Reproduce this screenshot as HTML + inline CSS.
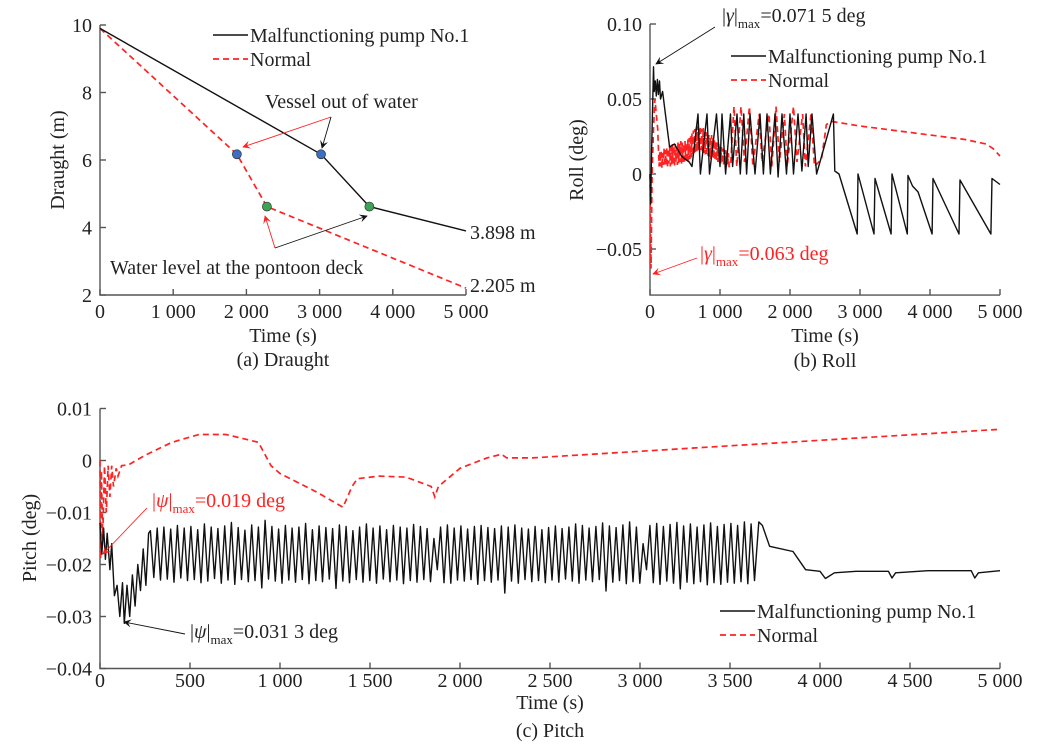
<!DOCTYPE html>
<html><head><meta charset="utf-8">
<style>
body{margin:0;background:#fff;}
svg{display:block;font-family:"Liberation Serif",serif;}
.t{font-size:20px;fill:#222;}
.ax{stroke:#555;stroke-width:1.4;fill:none;}
.bk{stroke:#111;stroke-width:1.4;fill:none;stroke-linejoin:round;}
.rd{stroke:#f22;stroke-width:1.7;fill:none;stroke-dasharray:6,4;}
</style></head>
<body>
<svg id="fig" width="1041" height="748" viewBox="0 0 1041 748" xmlns="http://www.w3.org/2000/svg">
<defs>
<marker id="ab" viewBox="0 0 10 10" refX="9" refY="5" markerWidth="9" markerHeight="9" orient="auto"><path d="M0,0L10,5L0,10L4,5z" fill="#111"/></marker>
<marker id="ar" viewBox="0 0 10 10" refX="9" refY="5" markerWidth="9" markerHeight="9" orient="auto"><path d="M0,0L10,5L0,10L4,5z" fill="#f22"/></marker>
</defs>
<g id="pa"></g>
<g id="pb"></g>
<g id="pc"></g>
</svg>
<script>
// ---------- data: draught ----------
const draughtMalfT = [0, 3020, 3680, 5000];
const draughtMalfV = [9.9, 6.17, 4.62, 3.898];
const draughtNormT = [0, 1870, 2280, 5000];
const draughtNormV = [9.9, 6.17, 4.62, 2.205];
const draughtXTicks = [0, 1000, 2000, 3000, 4000, 5000];
const draughtXLabels = ["0", "1 000", "2 000", "3 000", "4 000", "5 000"];
const draughtYTicks = [2, 4, 6, 8, 10];
// ---------- data: roll ----------
const rollMalfT = [0,10,20,40,50,60,75,90,105,120,135,150,180,220,280,350,450,500,560,600,686,720,814,850,950,1000,1029,1080,1150,1180,1243,1290,1340,1380,1429,1500,1571,1620,1671,1720,1786,1830,1886,1950,2000,2050,2114,2170,2230,2260,2314,2380,2620,2640,2700,2960,2971,3200,3214,3445,3457,3675,3686,3750,3830,4030,4043,4415,4429,4870,4886,5000];
const rollMalfV = [0,-0.02,0.01,0.05,0.0715,0.055,0.062,0.052,0.063,0.053,0.062,0.05,0.055,0.04,0.018,0.02,0.012,0.01,0.008,0.005,0.04,0,0.04,0,0.04,0.005,0.04,0,0.04,0.005,0.04,0,0.04,0,0.04,0,0.04,0,0.04,0,0.04,-0.002,0.04,0,0.04,0,0.04,0.002,0.04,0.005,0.04,0,0.04,0.002,0,-0.04,0,-0.04,-0.003,-0.04,0,-0.04,-0.001,-0.008,-0.012,-0.04,-0.003,-0.04,-0.004,-0.04,-0.003,-0.007];
const rollNormStartT = [0,15,30,50,70,90,110,130];
const rollNormStartV = [0,-0.063,0,0.03,0.05,0.04,0.03,0.005];
const rollBandStart = 140, rollBandPeriod = 20;
const rollBandHi = [0.015,0.016,0.014,0.017,0.016,0.018,0.017,0.019,0.018,0.02,0.019,0.02,0.018,0.021,0.02,0.022,0.021,0.02,0.022,0.021,0.023,0.024,0.026,0.027,0.029,0.03,0.031,0.032,0.031,0.032,0.03,0.031,0.029,0.028,0.027,0.026,0.025,0.026,0.024,0.023,0.022,0.021,0.02,0.019,0.018,0.017,0.016,0.016,0.015,0.014];
const rollBandLo = [0.005,0.004,0.006,0.005,0.006,0.004,0.007,0.005,0.006,0.007,0.005,0.008,0.006,0.007,0.008,0.006,0.008,0.007,0.009,0.008,0.009,0.01,0.011,0.012,0.013,0.014,0.015,0.016,0.015,0.016,0.015,0.014,0.013,0.012,0.012,0.011,0.01,0.011,0.01,0.009,0.009,0.008,0.008,0.007,0.007,0.006,0.006,0.005,0.006,0.005];
const rollNormEndT = [1150,1200,1240,1300,1350,1420,1470,1560,1600,1700,1740,1800,1850,1920,1960,2050,2100,2180,2220,2300,2350,2450,2520,2600,3000,3500,4000,4500,4800,4900,5000];
const rollNormEndV = [0.005,0.045,0.005,0.045,0.008,0.045,0.005,0.04,0.008,0.04,0.005,0.045,0.008,0.04,0.005,0.045,0.008,0.04,0.005,0.04,0.005,0.01,0.033,0.035,0.032,0.029,0.026,0.023,0.02,0.017,0.012];
const rollXTicks = [0,1000,2000,3000,4000,5000];
const rollXLabels = ["0","1 000","2 000","3 000","4 000","5 000"];
const rollYTicks = [-0.05,0,0.05,0.10];
const rollYLabels = ["\u22120.05","0","0.05","0.10"];
// ---------- data: pitch ----------
const pitchMalfStartT = [0,10,20,30,40,55,65,80,95,110,125,135,150,165,180,195,210,225,240,255,270];
const pitchMalfStartV = [-0.012,-0.018,-0.013,-0.019,-0.014,-0.021,-0.016,-0.026,-0.024,-0.03,-0.0235,-0.0313,-0.024,-0.03,-0.022,-0.028,-0.02,-0.025,-0.017,-0.024,-0.014];
const pitchOscStart = 280, pitchOscPeriod = 37.5;
const pitchOscHi = [-0.0135,-0.013,-0.0128,-0.0132,-0.0125,-0.013,-0.0127,-0.0133,-0.0122,-0.0128,-0.0131,-0.0126,-0.0119,-0.0129,-0.0134,-0.0124,-0.0128,-0.0115,-0.0127,-0.0132,-0.0125,-0.013,-0.0128,-0.0121,-0.0133,-0.0126,-0.0129,-0.0131,-0.0124,-0.0127,-0.0135,-0.0128,-0.0122,-0.013,-0.0126,-0.0133,-0.0125,-0.0128,-0.013,-0.0123,-0.0127,-0.0131,-0.015,-0.0128,-0.0124,-0.013,-0.0126,-0.0132,-0.0127,-0.0125,-0.0129,-0.0131,-0.0126,-0.0128,-0.0124,-0.013,-0.0132,-0.0127,-0.0133,-0.0129,-0.0126,-0.0131,-0.0128,-0.0122,-0.0125,-0.013,-0.0127,-0.012,-0.0126,-0.0129,-0.0124,-0.0118,-0.0128,-0.016,-0.0125,-0.0121,-0.0127,-0.0123,-0.0119,-0.0126,-0.0122,-0.0128,-0.0124,-0.012,-0.0127,-0.0123,-0.0121,-0.0125,-0.0118,-0.0122];
const pitchOscLo = [-0.0225,-0.023,-0.0228,-0.0234,-0.0226,-0.0231,-0.0229,-0.0235,-0.0232,-0.0227,-0.0236,-0.023,-0.0238,-0.0229,-0.0233,-0.0231,-0.0245,-0.0228,-0.0232,-0.0236,-0.023,-0.0234,-0.0229,-0.0237,-0.0231,-0.0233,-0.0228,-0.0246,-0.0232,-0.0235,-0.0229,-0.0234,-0.0231,-0.0236,-0.0228,-0.0233,-0.023,-0.0237,-0.0231,-0.0234,-0.0229,-0.0233,-0.021,-0.0235,-0.0236,-0.023,-0.0232,-0.0229,-0.0238,-0.0231,-0.0234,-0.023,-0.0255,-0.0232,-0.0236,-0.0229,-0.0233,-0.0231,-0.0235,-0.023,-0.0234,-0.0228,-0.0232,-0.0236,-0.023,-0.0233,-0.0229,-0.0251,-0.0234,-0.0231,-0.0237,-0.0233,-0.0236,-0.021,-0.0235,-0.0238,-0.0232,-0.0236,-0.0247,-0.0234,-0.0237,-0.0233,-0.0239,-0.0235,-0.0238,-0.0234,-0.0236,-0.0233,-0.0237,-0.0231];
const pitchMalfEndT = [3660,3680,3720,3850,3880,3920,4000,4030,4080,4200,4380,4400,4420,4600,4840,4860,4880,5000];
const pitchMalfEndV = [-0.0118,-0.0125,-0.0165,-0.0175,-0.019,-0.021,-0.0213,-0.0227,-0.0216,-0.0213,-0.0213,-0.0226,-0.0216,-0.0212,-0.0212,-0.0226,-0.0216,-0.0212];
const pitchNormT = [0,3,8,15,25,35,45,55,65,75,90,100,120,160,250,400,550,700,880,950,1000,1200,1350,1400,1430,1550,1700,1840,1860,1880,2000,2150,2230,2260,2400,5000];
const pitchNormV = [0,-0.019,-0.002,-0.015,-0.001,-0.01,-0.001,-0.007,-0.001,-0.005,-0.0015,-0.003,-0.001,-0.0008,0.001,0.0035,0.005,0.005,0.0035,-0.001,-0.0025,-0.006,-0.009,-0.005,-0.0035,-0.003,-0.0032,-0.005,-0.007,-0.005,-0.0015,0.0005,0.0012,0.0005,0.0005,0.006];
const pitchXTicks = [0,500,1000,1500,2000,2500,3000,3500,4000,4500,5000];
const pitchXLabels = ["0","500","1 000","1 500","2 000","2 500","3 000","3 500","4 000","4 500","5 000"];
const pitchYTicks = [-0.04,-0.03,-0.02,-0.01,0,0.01];
const pitchYLabels = ["\u22120.04","\u22120.03","\u22120.02","\u22120.01","0","0.01"];

const NS = "http://www.w3.org/2000/svg";
function mk(parent, tag, attrs, text){
  const e = document.createElementNS(NS, tag);
  for (const k in attrs) e.setAttribute(k, attrs[k]);
  if (text !== undefined) e.textContent = text;
  parent.appendChild(e);
  return e;
}
function scale(d0,d1,p0,p1){ return v => p0 + (v-d0)/(d1-d0)*(p1-p0); }
function pts(ts, vs, sx, sy){ return ts.map((t,i)=>sx(t).toFixed(1)+","+sy(vs[i]).toFixed(1)).join(" "); }
function bandSeries(start, period, hi, lo){
  const t=[], v=[];
  for (let i=0;i<hi.length;i++){ t.push(start+i*period); v.push(hi[i]); t.push(start+i*period+period/2); v.push(lo[i]); }
  return [t,v];
}
function axes(g, sx, sy, xT, xL, yT, yL, xMin, xMax, yMin, yMax, xLabY){
  const a = mk(g,'path',{class:'ax',d:`M${sx(xMin)},${sy(yMax)}L${sx(xMin)},${sy(yMin)}L${sx(xMax)},${sy(yMin)}`});
  
  
  xT.forEach((t,i)=>{
    const l = mk(g,'line',{class:'ax',x1:sx(t),x2:sx(t),y1:sy(yMin),y2:sy(yMin)-6});
    
    
    const tx = mk(g,'text',{class:'t',x:sx(t),y:xLabY,'text-anchor':'middle'},xL[i]);
    
    
  });
  yT.forEach((v,i)=>{
    const l = mk(g,'line',{class:'ax',x1:sx(xMin),x2:sx(xMin)+6,y1:sy(v),y2:sy(v)});
    
    
    const tx = mk(g,'text',{class:'t',x:sx(xMin)-8,y:sy(v)+7,'text-anchor':'end'},yL[i]);
    
    
  });
}
function line(g, cls, p, name){
  const e = mk(g,'polyline',{class:cls,points:p});
  
  
  return e;
}
function text(g, x, y, s, name, extra){
  const e = mk(g,'text',Object.assign({class:'t',x:x,y:y},extra||{}),s);
  
  
  return e;
}
function arrow(g, x1,y1,x2,y2, red, name){
  const e = mk(g,'line',{x1,y1,x2,y2,stroke:red?'#f22':'#111','stroke-width':0.9,'marker-end':red?'url(#ar)':'url(#ab)'});
  
  
}
function legend(g, x, y){
  const a = mk(g,'line',{x1:x,x2:x+35,y1:y,y2:y,stroke:'#111','stroke-width':1.6});
  
  
  text(g,x+37,y+7,'Malfunctioning pump No.1','legend-malfunction-label');
  const b = mk(g,'line',{x1:x,x2:x+35,y1:y+24,y2:y+24,stroke:'#f22','stroke-width':1.7,'stroke-dasharray':'6,4'});
  
  
  text(g,x+37,y+31,'Normal','legend-normal-label');
}
function rotLabel(g, x, y, s, name){
  text(g,0,0,s,name,{transform:`translate(${x},${y}) rotate(-90)`,'text-anchor':'middle'});
}
function maxLabel(g, x, y, sym, val, color, name){
  const e = mk(g,'text',{class:'t',x:x,y:y,fill:color,style:'fill:'+color});
  
  
  mk(e,'tspan',{},'|');
  mk(e,'tspan',{'font-style':'italic'},sym);
  mk(e,'tspan',{},'|');
  mk(e,'tspan',{'font-size':'13','dy':'6'},'max');
  mk(e,'tspan',{'dy':'-6'},'='+val);
}

// Panel a
(function(){
  const g = document.getElementById('pa');
  const sx = scale(0,5000,100,466), sy = scale(2,10,295,25);
  axes(g,sx,sy,draughtXTicks,draughtXLabels,draughtYTicks,draughtYTicks.map(String),0,5000,2,10,318);
  line(g,'rd',pts(draughtNormT,draughtNormV,sx,sy),'normal-draught-line');
  line(g,'bk',pts(draughtMalfT,draughtMalfV,sx,sy),'malfunction-draught-line');
  [[draughtNormT[1],draughtNormV[1],'#3a6fc4'],[draughtMalfT[1],draughtMalfV[1],'#3a6fc4'],[draughtNormT[2],draughtNormV[2],'#3aa655'],[draughtMalfT[2],draughtMalfV[2],'#3aa655']].forEach(p=>{
    const c = mk(g,'circle',{cx:sx(p[0]),cy:sy(p[1]),r:4.5,fill:p[2],stroke:'#333','stroke-width':0.7});
    
    
  });
  legend(g,213,35);
  text(g,265,108,'Vessel out of water','annotation-out-of-water');
  arrow(g,331,117,243,147,true,'arrow-out-of-water-normal');
  arrow(g,331,117,322,148,false,'arrow-out-of-water-malfunction');
  text(g,110,274,'Water level at the pontoon deck','annotation-pontoon-deck');
  arrow(g,275,248,265,216,true,'arrow-pontoon-normal');
  arrow(g,275,248,367,216,false,'arrow-pontoon-malfunction');
  text(g,470,239,'3.898 m','end-value-malfunction');
  text(g,470,292,'2.205 m','end-value-normal');
  rotLabel(g,64,160,'Draught (m)','y-axis-title');
  text(g,283,342,'Time (s)','x-axis-title',{'text-anchor':'middle'});
  text(g,283,366,'(a) Draught','panel-caption',{'text-anchor':'middle'});
})();

// Panel b
(function(){
  const g = document.getElementById('pb');
  const sx = scale(0,5000,650,1000), sy = scale(0,0.05,174,99);
  axes(g,sx,sy,rollXTicks,rollXLabels,rollYTicks,rollYLabels,0,5000,-0.0807,0.10,318);
  const band = bandSeries(rollBandStart,rollBandPeriod,rollBandHi,rollBandLo);
  const nt = rollNormStartT.concat(band[0],rollNormEndT), nv = rollNormStartV.concat(band[1],rollNormEndV);
  line(g,'rd',pts(nt,nv,sx,sy),'normal-roll-line');
  line(g,'bk',pts(rollMalfT,rollMalfV,sx,sy),'malfunction-roll-line');
  legend(g,731,56);
  maxLabel(g,722,22,'\u03b3','0.071 5 deg','#222','annotation-roll-max-malfunction');
  arrow(g,715,27,656,64,false,'arrow-roll-max-malfunction');
  maxLabel(g,700,260,'\u03b3','0.063 deg','#f22','annotation-roll-max-normal');
  arrow(g,697,258,653,274,true,'arrow-roll-max-normal');
  rotLabel(g,583,160,'Roll (deg)','y-axis-title');
  text(g,825,342,'Time (s)','x-axis-title',{'text-anchor':'middle'});
  text(g,825,367,'(b) Roll','panel-caption',{'text-anchor':'middle'});
})();

// Panel c
(function(){
  const g = document.getElementById('pc');
  const sx = scale(0,5000,100,1000), sy = scale(0,0.01,460.5,408.5);
  axes(g,sx,sy,pitchXTicks,pitchXLabels,pitchYTicks,pitchYLabels,0,5000,-0.04,0.01,687);
  line(g,'rd',pts(pitchNormT,pitchNormV,sx,sy),'normal-pitch-line');
  const band = bandSeries(pitchOscStart,pitchOscPeriod,pitchOscHi,pitchOscLo);
  const mt = pitchMalfStartT.concat(band[0],pitchMalfEndT), mv = pitchMalfStartV.concat(band[1],pitchMalfEndV);
  line(g,'bk',pts(mt,mv,sx,sy),'malfunction-pitch-line');
  legend(g,720,611);
  maxLabel(g,152,507,'\u03c8','0.019 deg','#f22','annotation-pitch-max-normal');
  arrow(g,147,508,103,554,true,'arrow-pitch-max-normal');
  maxLabel(g,190,638,'\u03c8','0.031 3 deg','#222','annotation-pitch-max-malfunction');
  arrow(g,185,634,124,622,false,'arrow-pitch-max-malfunction');
  rotLabel(g,36,538,'Pitch (deg)','y-axis-title');
  text(g,550,709,'Time (s)','x-axis-title',{'text-anchor':'middle'});
  text(g,550,737,'(c) Pitch','panel-caption',{'text-anchor':'middle'});
})();
</script>
</body></html>
